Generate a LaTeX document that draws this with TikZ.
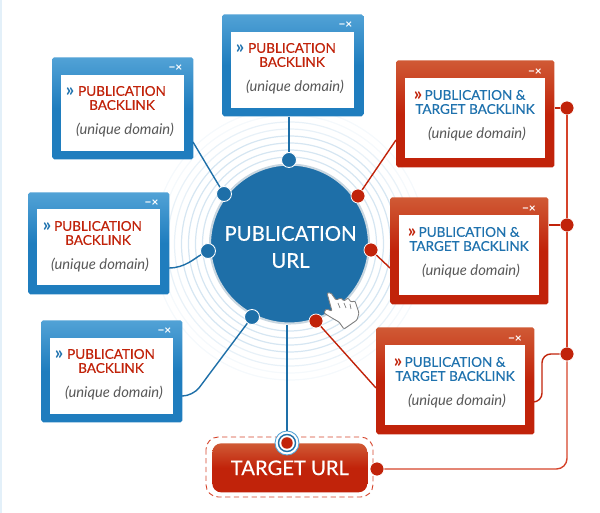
\documentclass[tikz,border=0pt]{standalone}
\usepackage{fontspec}
\setmainfont{Lato}
\newfontfamily\medfont[FakeBold=0.35]{Lato}
\definecolor{pubblue}{HTML}{1E6FA8}
\definecolor{wintop}{HTML}{52A2D6}
\definecolor{winbot}{HTML}{1F7DBE}
\definecolor{redtop}{HTML}{D05A35}
\definecolor{redbot}{HTML}{C1230A}
\definecolor{railred}{HTML}{D5432A}
\definecolor{ringblue}{HTML}{D6E6F2}
\definecolor{titleblue}{HTML}{1F72AE}
\definecolor{edgeblue}{HTML}{E3F0F9}
\tikzset{
  bluewin/.style={anchor=north west,inner sep=0pt,minimum width=2.82cm,minimum height=2.04cm,rounded corners=1pt,top color=wintop,bottom color=winbot,middle color=winbot},
  redwin/.style={anchor=north west,inner sep=0pt,minimum width=3.16cm,minimum height=2.14cm,rounded corners=1pt,top color=redtop,bottom color=redbot,middle color=redbot},
  bluepane/.style={anchor=north west,inner sep=0pt,minimum width=2.46cm,minimum height=1.52cm,fill=white},
  redpane/.style={anchor=north west,inner sep=0pt,minimum width=2.8cm,minimum height=1.6cm,fill=white},
  redtitle/.style={align=center,inner sep=0pt,text=redbot,font=\fontsize{7.7}{8}\medfont},
  bluetitle/.style={align=center,inner sep=0pt,text=titleblue,font=\fontsize{7.7}{8}\medfont},
  domaintext/.style={inner sep=0pt,text=black!65,font=\fontsize{8.4}{8}\selectfont\itshape},
  chevron/.style={inner sep=0pt,font=\fontsize{10.5}{10}\selectfont\bfseries},
  gadget/.style={inner sep=0pt,text=white,font=\fontsize{6.8}{6}\selectfont\bfseries},
  bluedot/.style={circle,inner sep=0pt,minimum size=.3cm,fill=pubblue,draw=white,line width=.5pt},
  reddot/.style={circle,inner sep=0pt,minimum size=.28cm,fill=redbot,draw=white,line width=.4pt},
  bluelink/.style={draw=pubblue,line width=.8pt},
  redlink/.style={draw=redbot,line width=.8pt},
  raillink/.style={draw=railred,line width=.8pt},
  ring/.style={draw=ringblue,line width=.7pt},
}
\begin{document}
\begin{tikzpicture}[x=.02cm,y=-.02cm]
    \useasboundingbox (0,0) rectangle (600,513);
    \fill[edgeblue] (0,0) rectangle (2,513);

    \coordinate (hub) at (289.5,244);
    \draw[ring,opacity=.25] (hub) circle (136) circle (129);
    \draw[ring,opacity=.55] (hub) circle (122) circle (115);
    \draw[ring] (hub) circle (108) circle (101) circle (94) circle (87);

    \node[circle,inner sep=0pt,minimum size=3.18cm,fill=pubblue,draw=ringblue!85!gray,line width=1.2pt] (puburl) at (hub) {};
    \node[align=center,inner sep=0pt,text=white,font=\fontsize{11.6}{15.4}\medfont] (publabel) at (290.5,247) {PUBLICATION\\URL};

    % dots round the hub
    \node[bluedot] (dottop) at (289,160) {};
    \node[bluedot] (dotleftA) at (224,194) {};
    \node[bluedot] (dotleftB) at (208,251) {};
    \node[bluedot] (dotleftC) at (252,317) {};
    \node[reddot] (dotrightA) at (358,196) {};
    \node[reddot] (dotrightB) at (371,250) {};
    \node[reddot] (dotrightC) at (316,321) {};

    % blue windows
    \node[bluewin] (wintop) at (222,14) {};
    \node[bluepane] (panetop) at (231,32) {};
    \node[chevron,text=titleblue] (chevtop) at (240,49) {»};
    \node[redtitle] (titletop) at (292,55) {PUBLICATION\\BACKLINK};
    \node[domaintext] (domtop) at (295,87) {(unique domain)};
    \node[gadget] (gadtop) at (345.5,25) {−×};

    \node[bluewin] (winleftA) at (52,57) {};
    \node[bluepane] (paneleftA) at (61,75) {};
    \node[chevron,text=titleblue] (chevleftA) at (70,92) {»};
    \node[redtitle] (titleleftA) at (122,98) {PUBLICATION\\BACKLINK};
    \node[domaintext] (domleftA) at (125,130) {(unique domain)};
    \node[gadget] (gadleftA) at (175.5,68) {−×};

    \node[bluewin] (winleftB) at (28,192) {};
    \node[bluepane] (paneleftB) at (37,209) {};
    \node[chevron,text=titleblue] (chevleftB) at (47,227) {»};
    \node[redtitle] (titleleftB) at (98,233) {PUBLICATION\\BACKLINK};
    \node[domaintext] (domleftB) at (100,265) {(unique domain)};
    \node[gadget] (gadleftB) at (151.5,203) {−×};

    \node[bluewin] (winleftC) at (41,320) {};
    \node[bluepane] (paneleftC) at (50,338) {};
    \node[chevron,text=titleblue] (chevleftC) at (59,355) {»};
    \node[redtitle] (titleleftC) at (111,361) {PUBLICATION\\BACKLINK};
    \node[domaintext] (domleftC) at (114,393) {(unique domain)};
    \node[gadget] (gadleftC) at (164.5,331) {−×};

    % red windows
    \node[redwin] (winrightA) at (396,60) {};
    \node[redpane] (panerightA) at (405,78) {};
    \node[chevron,text=redbot] (chevrightA) at (418,96) {»};
    \node[bluetitle] (titlerightA) at (475,102) {PUBLICATION \&\\TARGET BACKLINK};
    \node[domaintext] (domrightA) at (477,134) {(unique domain)};
    \node[gadget] (gadrightA) at (535,72) {−×};

    \node[redwin] (winrightB) at (390,197) {};
    \node[redpane] (panerightB) at (399,215) {};
    \node[chevron,text=redbot] (chevrightB) at (412,233) {»};
    \node[bluetitle] (titlerightB) at (469,239) {PUBLICATION \&\\TARGET BACKLINK};
    \node[domaintext] (domrightB) at (471,271) {(unique domain)};
    \node[gadget] (gadrightB) at (529,209) {−×};

    \node[redwin] (winrightC) at (376,327) {};
    \node[redpane] (panerightC) at (385,345) {};
    \node[chevron,text=redbot] (chevrightC) at (398,363) {»};
    \node[bluetitle] (titlerightC) at (455,369) {PUBLICATION \&\\TARGET BACKLINK};
    \node[domaintext] (domrightC) at (457,401) {(unique domain)};
    \node[gadget] (gadrightC) at (515,339) {−×};

    % target box
    \draw[railred,densely dashed,line width=.5pt,rounded corners=7pt] (206,437) rectangle (373,497);
    \node[anchor=north west,inner sep=0pt,minimum width=3.1cm,minimum height=.98cm,rounded corners=5pt,top color=redtop,bottom color=redbot,middle color=redbot,text=white,font=\fontsize{11.5}{11}\medfont] (target) at (212,443) {TARGET URL};
    \node[circle,inner sep=0pt,minimum size=.48cm,fill=white,draw=wintop,line width=.5pt] (targetring) at (287,443) {};
    \node[circle,inner sep=0pt,minimum size=.34cm,fill=white,draw=pubblue,line width=.8pt] (targetmid) at (287,443) {};
    \node[circle,inner sep=0pt,minimum size=.23cm,fill=redbot] (targetdot) at (287,443) {};

    % rail on the right
    \node[reddot] (railA) at (567,108) {};
    \node[reddot] (railB) at (567,225) {};
    \node[reddot] (railC) at (567,354) {};
    \node[reddot] (railT) at (377,469) {};
    \coordinate (railcorner) at (567,469);
    \coordinate (bendA) at (542,402);
    \coordinate (bendB) at (542,354);
    \coordinate (startC) at (534,402);

    % connectors
    \coordinate (startleftA) at (193,142);
    \coordinate (startleftB) at (169,268);
    \coordinate (startleftC) at (182,396);
    \coordinate (kinkleftC) at (193,396);
    \coordinate (startrightA) at (396,140);
    \coordinate (startrightB) at (390,268);
    \coordinate (startrightC) at (376,388);
    \draw[bluelink] (wintop.south -| dottop) -- (dottop);
    \draw[bluelink] (startleftA) -- (dotleftA);
    \draw[bluelink] (startleftB) .. controls (185,268) and (195,258) .. (dotleftB);
    \draw[bluelink,rounded corners=6pt] (startleftC) -- (kinkleftC) -- (dotleftC);
    \draw[redlink] (startrightA) -- (dotrightA);
    \draw[redlink] (startrightB) -- (dotrightB);
    \draw[redlink] (startrightC) -- (dotrightC);
    \draw[pubblue,line width=1.1pt] (puburl.south -| targetring) -- (targetring);

    \draw[raillink] (railA) -- (railB);
    \draw[raillink] (railB) -- (railC);
    \draw[raillink,rounded corners=6pt] (railC) -- (railcorner) -- (railT);
    \draw[redlink] (winrightA.east |- railA) -- (railA);
    \draw[redlink] (winrightB.east |- railB) -- (railB);
    \draw[redlink,rounded corners=5pt] (startC) -- (bendA) -- (bendB) -- (railC);

    % hand pointer
    \filldraw[draw=black!50,fill=white,line width=.5pt,rounded corners=.6pt] (327,293) -- (331,293) -- (336,300) -- (341,298) -- (344,301) -- (348,298) -- (351,302) -- (355,301) -- (359,313) -- (357,320) -- (344,329) -- (339,322) -- (332,318) -- (324,313) -- (326,309) -- (332,311) -- cycle;
    \draw[black!50,line width=.4pt] (338,303) -- (340,308);
    \draw[black!50,line width=.4pt] (344,303) -- (346,308);
    \draw[black!50,line width=.4pt] (350,304) -- (351,309);
\end{tikzpicture}
\end{document}
